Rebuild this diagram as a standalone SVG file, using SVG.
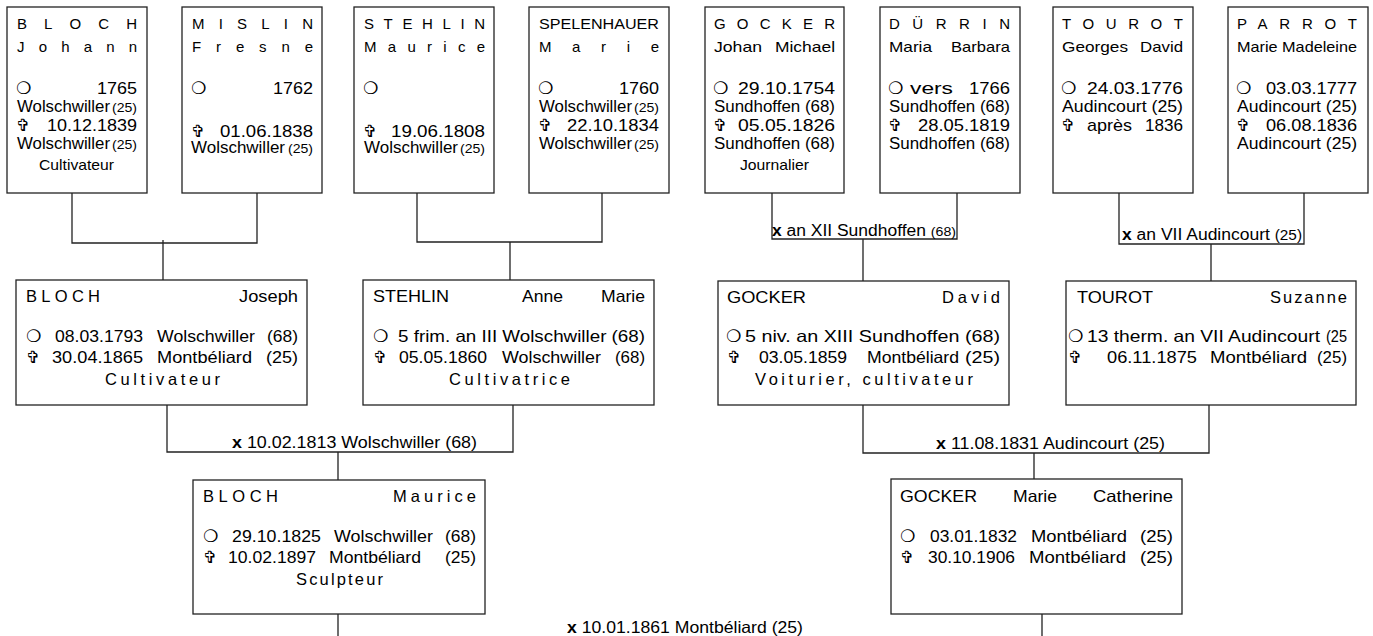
<svg xmlns="http://www.w3.org/2000/svg" width="1373" height="636" viewBox="0 0 1373 636">
<style>
.box{fill:#fff;stroke:#222;stroke-width:1.3}
.c{fill:none;stroke:#222;stroke-width:1.3}
text{font-family:"Liberation Sans",Arial,sans-serif;fill:#000}
.nm{font-size:15px}
.dt{font-size:17px}
.pl{font-size:16px}
.sm{font-size:13px}
.md{font-size:16.5px}
.oc{font-size:15px}
.sy{font-family:"DejaVu Sans",sans-serif;font-size:17px;font-weight:bold}
.cr{font-family:"DejaVu Sans",sans-serif;font-size:17px}
.b{font-weight:bold}
</style>
<rect width="1373" height="636" fill="#fff"/>
<g id="connectors">
<path class="c" d="M72,193V243H257V193M163,240V280"/>
<path class="c" d="M417,193V242H602V193M510,242V280"/>
<path class="c" d="M772,193V239H957V193M863,239V281"/>
<path class="c" d="M1119,193V244H1304V193M1211,244V283"/>
<path class="c" d="M167,405V452H513V405M338,452V480"/>
<path class="c" d="M863,405V453H1209V405M1034,453V479"/>
<path class="c" d="M338,614V636M1042,614V636"/>
<text class="pl" x="772" y="236" textLength="184" lengthAdjust="spacingAndGlyphs"><tspan class="b">x</tspan> an XII Sundhoffen <tspan class="sm">(68)</tspan></text>
<text class="pl" x="1122" y="240" textLength="180" lengthAdjust="spacingAndGlyphs"><tspan class="b">x</tspan> an VII Audincourt <tspan style="font-size:14px">(25)</tspan></text>
<text class="md" x="232" y="448" textLength="245" lengthAdjust="spacingAndGlyphs"><tspan class="b">x</tspan> 10.02.1813 Wolschwiller (68)</text>
<text class="md" x="936" y="449" textLength="229" lengthAdjust="spacingAndGlyphs"><tspan class="b">x</tspan> 11.08.1831 Audincourt (25)</text>
<text class="md" x="567" y="633" textLength="236" lengthAdjust="spacingAndGlyphs"><tspan class="b">x</tspan> 10.01.1861 Montbéliard (25)</text>
</g>

<g id="bloch-johann">
<rect class="box" x="7" y="7" width="140" height="186"/>
<text class="nm" x="17" y="29" textLength="120" lengthAdjust="spacing">BLOCH</text>
<text class="nm" x="17" y="52" textLength="120" lengthAdjust="spacing">Johann</text>
<text class="sy" x="16" y="94">❍</text>
<text class="dt" x="97" y="94" textLength="40" lengthAdjust="spacingAndGlyphs">1765</text>
<text class="pl" x="17" y="112" textLength="93" lengthAdjust="spacingAndGlyphs">Wolschwiller</text>
<text class="sm" x="112" y="112" textLength="25" lengthAdjust="spacingAndGlyphs">(25)</text>
<text class="cr" x="16" y="131">✞</text>
<text class="dt" x="47" y="131" textLength="90" lengthAdjust="spacingAndGlyphs">10.12.1839</text>
<text class="pl" x="17" y="149" textLength="93" lengthAdjust="spacingAndGlyphs">Wolschwiller</text>
<text class="sm" x="112" y="149" textLength="25" lengthAdjust="spacingAndGlyphs">(25)</text>
<text class="oc" x="39" y="170" textLength="75" lengthAdjust="spacingAndGlyphs">Cultivateur</text>
</g>

<g id="mislin-fresne">
<rect class="box" x="182" y="7" width="140" height="186"/>
<text class="nm" x="192" y="29" textLength="121" lengthAdjust="spacing">MISLIN</text>
<text class="nm" x="192" y="52" textLength="121" lengthAdjust="spacing">Fresne</text>
<text class="sy" x="191" y="94">❍</text>
<text class="dt" x="273" y="94" textLength="40" lengthAdjust="spacingAndGlyphs">1762</text>
<text class="cr" x="191" y="137">✞</text>
<text class="dt" x="220" y="137" textLength="93" lengthAdjust="spacingAndGlyphs">01.06.1838</text>
<text class="pl" x="191" y="153" textLength="94" lengthAdjust="spacingAndGlyphs">Wolschwiller</text>
<text class="sm" x="288" y="153" textLength="25" lengthAdjust="spacingAndGlyphs">(25)</text>
</g>

<g id="stehlin-maurice">
<rect class="box" x="354" y="7" width="140" height="186"/>
<text class="nm" x="364" y="29" textLength="121" lengthAdjust="spacing">STEHLIN</text>
<text class="nm" x="364" y="52" textLength="121" lengthAdjust="spacing">Maurice</text>
<text class="sy" x="363" y="94">❍</text>
<text class="cr" x="363" y="137">✞</text>
<text class="dt" x="391" y="137" textLength="94" lengthAdjust="spacingAndGlyphs">19.06.1808</text>
<text class="pl" x="364" y="153" textLength="94" lengthAdjust="spacingAndGlyphs">Wolschwiller</text>
<text class="sm" x="460" y="153" textLength="25" lengthAdjust="spacingAndGlyphs">(25)</text>
</g>

<g id="spelenhauer-marie">
<rect class="box" x="529" y="7" width="140" height="186"/>
<text class="nm" x="539" y="29" textLength="120" lengthAdjust="spacingAndGlyphs">SPELENHAUER</text>
<text class="nm" x="539" y="52" textLength="120" lengthAdjust="spacing">Marie</text>
<text class="sy" x="538" y="94">❍</text>
<text class="dt" x="619" y="94" textLength="40" lengthAdjust="spacingAndGlyphs">1760</text>
<text class="pl" x="539" y="112" textLength="93" lengthAdjust="spacingAndGlyphs">Wolschwiller</text>
<text class="sm" x="634" y="112" textLength="25" lengthAdjust="spacingAndGlyphs">(25)</text>
<text class="cr" x="538" y="131">✞</text>
<text class="dt" x="567" y="131" textLength="92" lengthAdjust="spacingAndGlyphs">22.10.1834</text>
<text class="pl" x="539" y="149" textLength="93" lengthAdjust="spacingAndGlyphs">Wolschwiller</text>
<text class="sm" x="634" y="149" textLength="25" lengthAdjust="spacingAndGlyphs">(25)</text>
</g>

<g id="gocker-johan-michael">
<rect class="box" x="705" y="7" width="139" height="186"/>
<text class="nm" x="714" y="29" textLength="121" lengthAdjust="spacing">GOCKER</text>
<text class="nm" x="714" y="52" textLength="48" lengthAdjust="spacingAndGlyphs">Johan</text>
<text class="nm" x="775" y="52" textLength="60" lengthAdjust="spacingAndGlyphs">Michael</text>
<text class="sy" x="713" y="94">❍</text>
<text class="dt" x="738" y="94" textLength="97" lengthAdjust="spacingAndGlyphs">29.10.1754</text>
<text class="pl" x="714" y="112" textLength="121" lengthAdjust="spacingAndGlyphs">Sundhoffen (68)</text>
<text class="cr" x="713" y="131">✞</text>
<text class="dt" x="738" y="131" textLength="97" lengthAdjust="spacingAndGlyphs">05.05.1826</text>
<text class="pl" x="714" y="149" textLength="121" lengthAdjust="spacingAndGlyphs">Sundhoffen (68)</text>
<text class="oc" x="740" y="170" textLength="69" lengthAdjust="spacingAndGlyphs">Journalier</text>
</g>

<g id="durrin-maria-barbara">
<rect class="box" x="880" y="7" width="140" height="186"/>
<text class="nm" x="889" y="29" textLength="121" lengthAdjust="spacing">DÜRRIN</text>
<text class="nm" x="889" y="52" textLength="43" lengthAdjust="spacingAndGlyphs">Maria</text>
<text class="nm" x="951" y="52" textLength="59" lengthAdjust="spacingAndGlyphs">Barbara</text>
<text class="sy" x="888" y="94">❍</text>
<text class="dt" x="910" y="94" textLength="43" lengthAdjust="spacingAndGlyphs">vers</text>
<text class="dt" x="969" y="94" textLength="41" lengthAdjust="spacingAndGlyphs">1766</text>
<text class="pl" x="889" y="112" textLength="121" lengthAdjust="spacingAndGlyphs">Sundhoffen (68)</text>
<text class="cr" x="888" y="131">✞</text>
<text class="dt" x="918" y="131" textLength="92" lengthAdjust="spacingAndGlyphs">28.05.1819</text>
<text class="pl" x="889" y="149" textLength="121" lengthAdjust="spacingAndGlyphs">Sundhoffen (68)</text>
</g>

<g id="tourot-georges-david">
<rect class="box" x="1053" y="7" width="140" height="186"/>
<text class="nm" x="1062" y="29" textLength="121" lengthAdjust="spacing">TOUROT</text>
<text class="nm" x="1062" y="52" textLength="66" lengthAdjust="spacingAndGlyphs">Georges</text>
<text class="nm" x="1140" y="52" textLength="43" lengthAdjust="spacingAndGlyphs">David</text>
<text class="sy" x="1061" y="94">❍</text>
<text class="dt" x="1087" y="94" textLength="96" lengthAdjust="spacingAndGlyphs">24.03.1776</text>
<text class="pl" x="1062" y="112" textLength="121" lengthAdjust="spacingAndGlyphs">Audincourt (25)</text>
<text class="cr" x="1061" y="131">✞</text>
<text class="dt" x="1087" y="131" textLength="45" lengthAdjust="spacingAndGlyphs">après</text>
<text class="dt" x="1145" y="131" textLength="38" lengthAdjust="spacingAndGlyphs">1836</text>
</g>

<g id="parrot-marie-madeleine">
<rect class="box" x="1228" y="7" width="140" height="186"/>
<text class="nm" x="1237" y="29" textLength="120" lengthAdjust="spacing">PARROT</text>
<text class="nm" x="1237" y="52" textLength="120" lengthAdjust="spacingAndGlyphs">Marie Madeleine</text>
<text class="sy" x="1236" y="94">❍</text>
<text class="dt" x="1266" y="94" textLength="91" lengthAdjust="spacingAndGlyphs">03.03.1777</text>
<text class="pl" x="1237" y="112" textLength="120" lengthAdjust="spacingAndGlyphs">Audincourt (25)</text>
<text class="cr" x="1236" y="131">✞</text>
<text class="dt" x="1266" y="131" textLength="91" lengthAdjust="spacingAndGlyphs">06.08.1836</text>
<text class="pl" x="1237" y="149" textLength="120" lengthAdjust="spacingAndGlyphs">Audincourt (25)</text>
</g>

<g id="bloch-joseph">
<rect class="box" x="16" y="280" width="291" height="125"/>
<text class="md" x="26" y="302" textLength="74" lengthAdjust="spacing">BLOCH</text>
<text class="md" x="239" y="302" textLength="59" lengthAdjust="spacingAndGlyphs">Joseph</text>
<text class="sy" x="26" y="342">❍</text>
<text class="md" x="55" y="342" textLength="88" lengthAdjust="spacingAndGlyphs">08.03.1793</text>
<text class="md" x="157" y="342" textLength="98" lengthAdjust="spacingAndGlyphs">Wolschwiller</text>
<text class="md" x="267" y="342" textLength="31" lengthAdjust="spacingAndGlyphs">(68)</text>
<text class="cr" x="26" y="363">✞</text>
<text class="md" x="52" y="363" textLength="91" lengthAdjust="spacingAndGlyphs">30.04.1865</text>
<text class="md" x="157" y="363" textLength="95" lengthAdjust="spacingAndGlyphs">Montbéliard</text>
<text class="md" x="266" y="363" textLength="32" lengthAdjust="spacingAndGlyphs">(25)</text>
<text class="md" x="105" y="385" textLength="115" lengthAdjust="spacing">Cultivateur</text>
</g>

<g id="stehlin-anne-marie">
<rect class="box" x="363" y="280" width="291" height="125"/>
<text class="md" x="373" y="302" textLength="76" lengthAdjust="spacingAndGlyphs">STEHLIN</text>
<text class="md" x="522" y="302" textLength="41" lengthAdjust="spacingAndGlyphs">Anne</text>
<text class="md" x="601" y="302" textLength="44" lengthAdjust="spacingAndGlyphs">Marie</text>
<text class="sy" x="373" y="342">❍</text>
<text class="md" x="398" y="342" textLength="247" lengthAdjust="spacingAndGlyphs">5 frim. an III Wolschwiller (68)</text>
<text class="cr" x="373" y="363">✞</text>
<text class="md" x="399" y="363" textLength="88" lengthAdjust="spacingAndGlyphs">05.05.1860</text>
<text class="md" x="502" y="363" textLength="99" lengthAdjust="spacingAndGlyphs">Wolschwiller</text>
<text class="md" x="615" y="363" textLength="30" lengthAdjust="spacingAndGlyphs">(68)</text>
<text class="md" x="449" y="385" textLength="121" lengthAdjust="spacing">Cultivatrice</text>
</g>

<g id="gocker-david">
<rect class="box" x="718" y="281" width="291" height="124"/>
<text class="md" x="727" y="303" textLength="79" lengthAdjust="spacingAndGlyphs">GOCKER</text>
<text class="md" x="942" y="303" textLength="58" lengthAdjust="spacing">David</text>
<text class="sy" x="726" y="342">❍</text>
<text class="md" x="745" y="342" textLength="255" lengthAdjust="spacingAndGlyphs">5 niv. an XIII Sundhoffen (68)</text>
<text class="cr" x="727" y="363">✞</text>
<text class="md" x="759" y="363" textLength="88" lengthAdjust="spacingAndGlyphs">03.05.1859</text>
<text class="md" x="867" y="363" textLength="92" lengthAdjust="spacingAndGlyphs">Montbéliard</text>
<text class="md" x="965" y="363" textLength="35" lengthAdjust="spacingAndGlyphs">(25)</text>
<text class="md" x="755" y="385" textLength="218" lengthAdjust="spacing">Voiturier, cultivateur</text>
</g>

<g id="tourot-suzanne">
<rect class="box" x="1066" y="281" width="290" height="124"/>
<text class="md" x="1077" y="303" textLength="76" lengthAdjust="spacingAndGlyphs">TOUROT</text>
<text class="md" x="1270" y="303" textLength="77" lengthAdjust="spacing">Suzanne</text>
<text class="sy" x="1068" y="342">❍</text>
<text class="md" x="1087" y="342" textLength="233" lengthAdjust="spacingAndGlyphs">13 therm. an VII Audincourt</text>
<text class="md" x="1326" y="342" textLength="21" lengthAdjust="spacingAndGlyphs">(25</text>
<text class="cr" x="1068" y="363">✞</text>
<text class="md" x="1107" y="363" textLength="90" lengthAdjust="spacingAndGlyphs">06.11.1875</text>
<text class="md" x="1210" y="363" textLength="97" lengthAdjust="spacingAndGlyphs">Montbéliard</text>
<text class="md" x="1317" y="363" textLength="30" lengthAdjust="spacingAndGlyphs">(25)</text>
</g>

<g id="bloch-maurice">
<rect class="box" x="193" y="480" width="292" height="134"/>
<text class="md" x="203" y="502" textLength="75" lengthAdjust="spacing">BLOCH</text>
<text class="md" x="393" y="502" textLength="83" lengthAdjust="spacing">Maurice</text>
<text class="sy" x="203" y="542">❍</text>
<text class="md" x="232" y="542" textLength="89" lengthAdjust="spacingAndGlyphs">29.10.1825</text>
<text class="md" x="334" y="542" textLength="99" lengthAdjust="spacingAndGlyphs">Wolschwiller</text>
<text class="md" x="445" y="542" textLength="31" lengthAdjust="spacingAndGlyphs">(68)</text>
<text class="cr" x="203" y="563">✞</text>
<text class="md" x="228" y="563" textLength="88" lengthAdjust="spacingAndGlyphs">10.02.1897</text>
<text class="md" x="329" y="563" textLength="92" lengthAdjust="spacingAndGlyphs">Montbéliard</text>
<text class="md" x="445" y="563" textLength="31" lengthAdjust="spacingAndGlyphs">(25)</text>
<text class="md" x="296" y="585" textLength="87" lengthAdjust="spacing">Sculpteur</text>
</g>

<g id="gocker-marie-catherine">
<rect class="box" x="891" y="479" width="291" height="135"/>
<text class="md" x="900" y="502" textLength="77" lengthAdjust="spacingAndGlyphs">GOCKER</text>
<text class="md" x="1013" y="502" textLength="44" lengthAdjust="spacingAndGlyphs">Marie</text>
<text class="md" x="1093" y="502" textLength="80" lengthAdjust="spacingAndGlyphs">Catherine</text>
<text class="sy" x="900" y="542">❍</text>
<text class="md" x="930" y="542" textLength="87" lengthAdjust="spacingAndGlyphs">03.01.1832</text>
<text class="md" x="1031" y="542" textLength="96" lengthAdjust="spacingAndGlyphs">Montbéliard</text>
<text class="md" x="1140" y="542" textLength="33" lengthAdjust="spacingAndGlyphs">(25)</text>
<text class="cr" x="900" y="563">✞</text>
<text class="md" x="928" y="563" textLength="87" lengthAdjust="spacingAndGlyphs">30.10.1906</text>
<text class="md" x="1029" y="563" textLength="97" lengthAdjust="spacingAndGlyphs">Montbéliard</text>
<text class="md" x="1140" y="563" textLength="33" lengthAdjust="spacingAndGlyphs">(25)</text>
</g>
</svg>
